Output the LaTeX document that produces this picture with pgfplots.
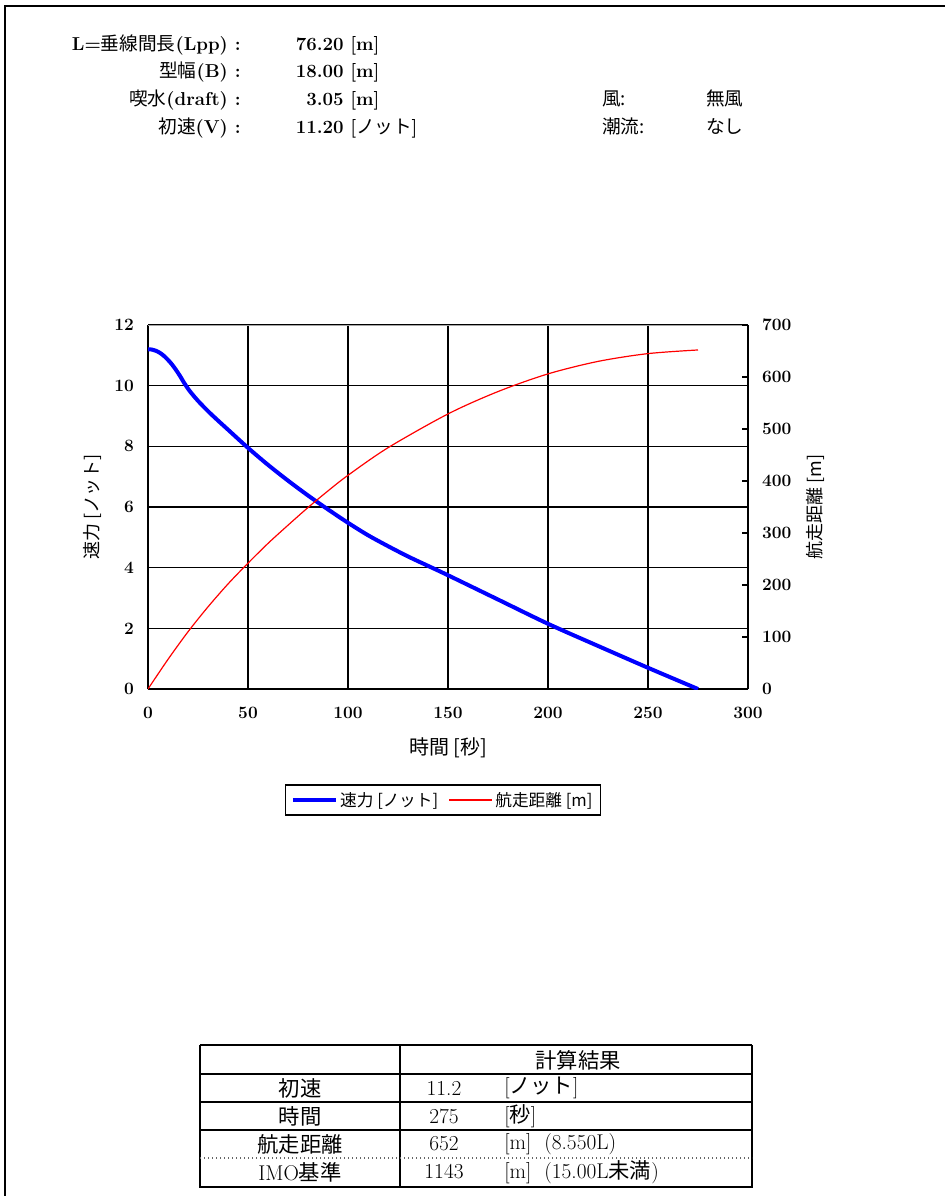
\documentclass[border=0pt]{standalone}
\usepackage{fontspec}
\usepackage{pgfplots}
\pgfplotsset{compat=1.18}
\newfontfamily\jp{Noto Sans CJK JP}

\pgfplotstableread{
t v
0 11.20
2 11.19
4 11.15
6 11.08
8 10.98
10 10.85
12 10.70
14 10.52
16 10.32
18 10.10
20 9.90
22 9.73
25 9.50
30 9.16
35 8.85
40 8.55
50 7.95
60 7.39
70 6.87
80 6.38
90 5.92
100 5.48
110 5.07
120 4.71
130 4.37
140 4.06
150 3.75
175 2.95
200 2.15
225 1.42
250 0.70
275 0.00
}\speed

\pgfplotstableread{
t d
0 0
10 57
20 110
30 158
40 202
50 242
60 280
70 315
80 349
90 381
100 411
120 464
150 529
175 572
200 606
225 630
250 645
275 652
}\dist

\begin{document}
\begin{tikzpicture}
\begin{scope}[x=0.75pt,y=-0.75pt]
\path[use as bounding box] (0,0) rectangle (945,1196);
\draw[line width=1.5pt] (5,1196) -- (5,6) -- (945,6);
% header
\begin{scope}[every node/.style={font=\fontsize{14}{16}\selectfont, inner sep=0pt}]
\node[anchor=base east] at (241,50) {\textbf{L=}{\jp 垂線間長}\textbf{(Lpp) :}};
\node[anchor=base east] at (241,77) {{\jp 型幅}\textbf{(B) :}};
\node[anchor=base east] at (241,105) {{\jp 喫水}\textbf{(draft) :}};
\node[anchor=base east] at (241,133) {{\jp 初速}\textbf{(V) :}};
\node[anchor=base east] at (344,50) {\textbf{76.20}};
\node[anchor=base east] at (344,77) {\textbf{18.00}};
\node[anchor=base east] at (344,105) {\textbf{3.05}};
\node[anchor=base east] at (344,133) {\textbf{11.20}};
\node[anchor=base west] at (350,50) {\textbf{[m]}};
\node[anchor=base west] at (350,77) {\textbf{[m]}};
\node[anchor=base west] at (350,105) {\textbf{[m]}};
\node[anchor=base west] at (350,133) {\textbf{[}{\jp ノット}\textbf{]}};
\node[anchor=base west] at (602,105) {\jp 風:};
\node[anchor=base west] at (602,133) {\jp 潮流:};
\node[anchor=base west] at (706,105) {\jp 無風};
\node[anchor=base west] at (706,133) {\jp なし};
\end{scope}
% table
\draw[line width=1.3pt] (200,1045) -- (752,1045);
\draw[line width=1.3pt] (200,1045) -- (200,1187) -- (752,1187) -- (752,1045);
\draw[line width=1pt] (400,1045) -- (400,1187);
\draw[line width=1pt] (200,1074) -- (752,1074);
\draw[line width=1pt] (200,1102) -- (752,1102);
\draw[line width=1pt] (200,1130) -- (752,1130);
\draw[line width=1pt, black!60, dotted] (200,1158) -- (752,1158);
\begin{scope}[every node/.style={font=\fontsize{16}{18}\selectfont, inner sep=0pt}]
\node at (578,1060) {\jp 計算結果};
\node at (300,1088) {\jp 初速};
\node at (300,1116) {\jp 時間};
\node at (300,1144) {\jp 航走距離};
\node at (300,1172) {IMO{\jp 基準}};
\node at (444,1088) {11.2};
\node at (444,1116) {275};
\node at (444,1144) {652};
\node at (444,1172) {1143};
\node[anchor=west] at (504,1088) {[{\jp ノット}]};
\node[anchor=west] at (504,1116) {[{\jp 秒}]};
\node[anchor=west] at (504,1144) {[m]\ \ ({8.550L})};
\node[anchor=west] at (504,1172) {[m]\ \ (15.00L{\jp 未満})};
\end{scope}
\end{scope}

\begin{axis}[
  at={(111pt,-516.75pt)}, anchor=south west,
  width=450pt, height=273pt, scale only axis,
  xmin=0, xmax=300, ymin=0, ymax=12,
  xtick={0,50,...,300}, ytick={0,2,...,12},
  axis x line*=bottom, axis y line*=left,
  axis line style={black, line width=1.1pt},
  grid=major, major grid style={black, line width=1pt},
  tick align=inside, major tick length=4pt,
  tick style={black, line width=0.9pt},
  /pgf/number format/assume math mode=true,
  tick label style={font=\fontsize{13}{15}\selectfont\bfseries},
  yticklabel style={xshift=-7pt},
  xticklabel style={yshift=-10pt},
  xlabel={\jp 時間 [秒]}, ylabel={\jp 速力 [ノット]},
  every axis x label/.style={at={(rel axis cs:0.5,-0.162)}, anchor=center, font=\fontsize{15}{17}\selectfont},
  every axis y label/.style={at={(rel axis cs:-0.0917,0.5)}, rotate=90, anchor=center, font=\fontsize{13.5}{15}\selectfont},
  legend style={at={(rel axis cs:0.4917,-0.305)}, anchor=center, draw=black, line width=1.4pt,
    font=\fontsize{12.5}{14}\selectfont\jp, inner xsep=4pt, inner ysep=3pt,
    /tikz/every even column/.append style={column sep=6pt}},
  legend columns=2,
  legend image code/.code={\draw[#1] (0pt,0pt) -- (32pt,0pt);},
]
\addplot[blue, line width=3pt, smooth] table[x=t,y=v] {\speed};
\addlegendentry{速力 [ノット]}
\addlegendimage{red, line width=0.9pt}
\addlegendentry{航走距離 [m]}
\draw[black!35, line width=0.7pt] (rel axis cs:0,1) -- (rel axis cs:1,1);
\end{axis}

\begin{axis}[
  at={(111pt,-516.75pt)}, anchor=south west,
  width=450pt, height=273pt, scale only axis,
  xmin=0, xmax=300, ymin=0, ymax=700,
  ytick={0,100,...,700},
  axis x line=none, axis y line*=right,
  axis line style={black, line width=1.1pt},
  tick align=inside, major tick length=4.5pt,
  tick style={black, line width=0.9pt},
  /pgf/number format/assume math mode=true,
  tick label style={font=\fontsize{13}{15}\selectfont\bfseries},
  yticklabel style={xshift=7pt},
  ylabel={\jp 航走距離 [m]},
  every axis y label/.style={at={(rel axis cs:1.113,0.5)}, rotate=90, anchor=center, font=\fontsize{13.5}{15}\selectfont},
]
\addplot[red, line width=0.9pt, smooth] table[x=t,y=d] {\dist};
\end{axis}
\end{tikzpicture}
\end{document}
